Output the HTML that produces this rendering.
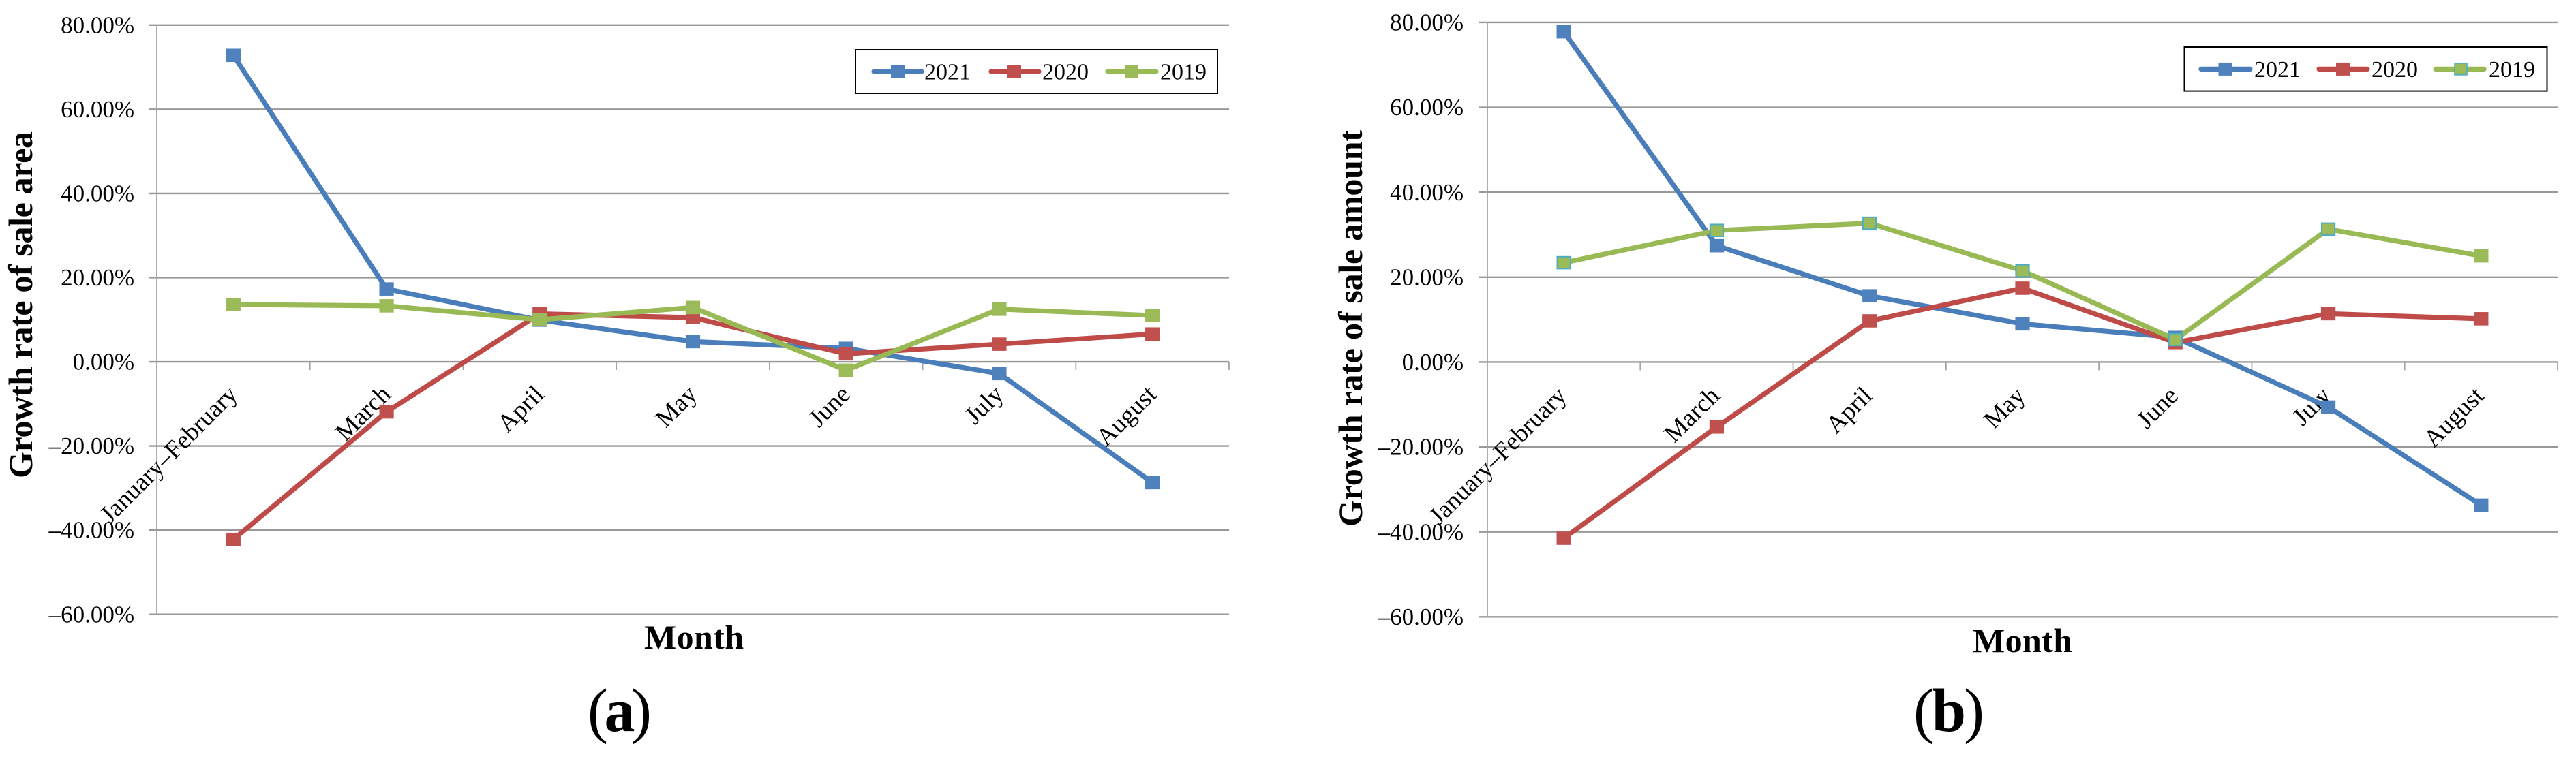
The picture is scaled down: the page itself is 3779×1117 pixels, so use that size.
<!DOCTYPE html>
<html lang="en">
<head>
<meta charset="utf-8">
<title>Growth rate of sale area and sale amount</title>
<style>
html,body{margin:0;padding:0;background:#fff;width:3779px;height:1117px;overflow:hidden}
svg{display:block;font-family:"Liberation Serif",serif;fill:#000}
</style>
</head>
<body>
<svg id="figure" width="3779" height="1117" viewBox="0 0 3779 1117" xmlns="http://www.w3.org/2000/svg">
  <g id="panel-a"></g>
  <g id="panel-b"></g>
  <text transform="translate(47,702) rotate(-90)" font-size="50" font-weight="bold" textLength="509" lengthAdjust="spacing">Growth rate of sale area</text>
  <text transform="translate(1998,773) rotate(-90)" font-size="50" font-weight="bold" textLength="582" lengthAdjust="spacing">Growth rate of sale amount</text>
  <text x="945" y="952" font-size="50" font-weight="bold" textLength="146">Month</text>
  <text x="2894" y="957" font-size="50" font-weight="bold" textLength="146">Month</text>
  <text x="862" y="1073" font-size="90" textLength="94">(<tspan font-weight="bold">a</tspan>)</text>
  <text x="2807" y="1073" font-size="90" textLength="104">(<tspan font-weight="bold">b</tspan>)</text>
</svg>
<script>
const categories = ['January–February', 'March', 'April', 'May', 'June', 'July', 'August'];
const yTickValues = [80, 60, 40, 20, 0, -20, -40, -60];
const yTickLabels = ['80.00%', '60.00%', '40.00%', '20.00%', '0.00%', '–20.00%', '–40.00%', '–60.00%'];
const seriesNames = ['2021', '2020', '2019'];

const areaGrowth2021 = [72.8, 17.3, 9.9, 4.8, 3.2, -2.8, -28.7];
const areaGrowth2020 = [-42.2, -11.9, 11.4, 10.5, 1.9, 4.2, 6.6];
const areaGrowth2019 = [13.6, 13.3, 10.0, 12.9, -2.0, 12.5, 11.0];

const amountGrowth2021 = [77.8, 27.4, 15.6, 9.0, 5.8, -10.6, -33.7];
const amountGrowth2020 = [-41.5, -15.3, 9.7, 17.4, 4.6, 11.4, 10.2];
const amountGrowth2019 = [23.4, 31.0, 32.7, 21.5, 5.3, 31.3, 25.0];

const NS = 'http://www.w3.org/2000/svg';
const LINE_COLORS = ['#4a7ebb', '#be4b48', '#98b954'];
const MARKER_COLORS = ['#4f81bd', '#c0504d', '#9bbb59'];

function mk(parent, tag, attrs, text) {
  const el = document.createElementNS(NS, tag);
  for (const k in attrs) el.setAttribute(k, attrs[k]);
  if (text !== undefined) el.textContent = text;
  parent.appendChild(el);
  return el;
}

function drawPanel(cfg) {
  const root = document.getElementById(cfg.id);
  const xScale = i => cfg.left + (cfg.right - cfg.left) * (i + 0.5) / categories.length;
  const xEdge = i => cfg.left + (cfg.right - cfg.left) * i / categories.length;
  const yScale = v => cfg.top + (80 - v) * (cfg.bottom - cfg.top) / 140;

  yTickValues.forEach((v, i) => {
    const grid = mk(root, 'line', {x1: cfg.left - 12, x2: cfg.right, y1: yScale(v), y2: yScale(v), stroke: '#989898', 'stroke-width': 2.4});
    
    
    const label = mk(root, 'text', {x: cfg.tickRight, y: yScale(v) + 11.6, 'font-size': 35, 'text-anchor': 'end'}, yTickLabels[i]);
    
    
  });

  const axis = mk(root, 'line', {x1: cfg.left, x2: cfg.left, y1: yScale(80), y2: yScale(-60), stroke: '#a4a4a4', 'stroke-width': 1.8});
  
  

  for (let i = 1; i <= categories.length; i++) {
    const tick = mk(root, 'line', {x1: xEdge(i), x2: xEdge(i), y1: yScale(0), y2: yScale(0) + 12, stroke: '#a4a4a4', 'stroke-width': 1.8});
    
    
  }

  categories.forEach((c, i) => {
    const px = xScale(i) + cfg.labelDx;
    const label = mk(root, 'text', {x: px, y: cfg.labelY, 'font-size': 37, 'text-anchor': 'end', transform: 'rotate(-45 ' + px + ' ' + cfg.labelY + ')'}, c);
    
    
  });

  cfg.series.forEach((values, s) => {
    const group = mk(root, 'g', {});
    
    
    const pts = values.map((v, i) => xScale(i) + ',' + yScale(v)).join(' ');
    const line = mk(group, 'polyline', {points: pts, fill: 'none', stroke: LINE_COLORS[s], 'stroke-width': 7.2, 'stroke-linejoin': 'round', 'stroke-linecap': 'round'});
    
    
    values.forEach((v, i) => {
      const teal = cfg.tealMarkers && s === 2 && i < values.length - 1;
      const mark = mk(group, 'rect', {x: xScale(i) - (teal ? 9.6 : 10.6), y: yScale(v) - (teal ? 8.8 : 9.8), width: teal ? 19.2 : 21.2, height: teal ? 17.6 : 19.6, fill: MARKER_COLORS[s]});
      if (teal) { mark.setAttribute('stroke', '#4bacc6'); mark.setAttribute('stroke-width', 2); }
      
      
    });
  });

  const legend = mk(root, 'g', {});
  
  
  const L = cfg.legend;
  const box = mk(legend, 'rect', {x: L.x, y: L.y, width: L.w, height: L.h, fill: '#fff', stroke: '#000', 'stroke-width': 2});
  
  
  seriesNames.forEach((name, s) => {
    const entry = mk(legend, 'g', {});
    
    
    const ln = L.lines[s];
    const cy = L.cy;
    mk(entry, 'line', {x1: ln[0], x2: ln[1], y1: cy, y2: cy, stroke: LINE_COLORS[s], 'stroke-width': 7.2, 'stroke-linecap': 'round'});
    const teal = cfg.tealMarkers && s === 2;
    const m = mk(entry, 'rect', {x: ln[2] - (teal ? 9 : 10), y: cy - (teal ? 8.5 : 9.5), width: teal ? 18 : 20, height: teal ? 17 : 19, fill: MARKER_COLORS[s]});
    if (teal) { m.setAttribute('stroke', '#4bacc6'); m.setAttribute('stroke-width', 1.6); }
    mk(entry, 'text', {x: ln[3], y: cy + 11.6, 'font-size': 34, textLength: 68}, name);
  });
}

drawPanel({
  id: 'panel-a', left: 230, right: 1803, top: 36.8, bottom: 901.7, tickRight: 197, labelDx: 8, labelY: 581,
  series: [areaGrowth2021, areaGrowth2020, areaGrowth2019], tealMarkers: false,
  legend: {x: 1255, y: 73, w: 531, h: 64, cy: 105, lines: [[1282, 1352, 1317, 1356], [1454, 1524, 1488, 1529], [1625, 1696, 1660, 1702]]}
});
drawPanel({
  id: 'panel-b', left: 2182, right: 3752, top: 32.9, bottom: 905.3, tickRight: 2147, labelDx: 6, labelY: 583,
  series: [amountGrowth2021, amountGrowth2020, amountGrowth2019], tealMarkers: true,
  legend: {x: 3204.5, y: 69, w: 532, h: 64.6, cy: 101.4, lines: [[3229, 3301, 3264.5, 3307], [3402, 3473, 3437, 3479], [3573, 3644, 3610, 3651]]}
});
</script>
</body>
</html>
